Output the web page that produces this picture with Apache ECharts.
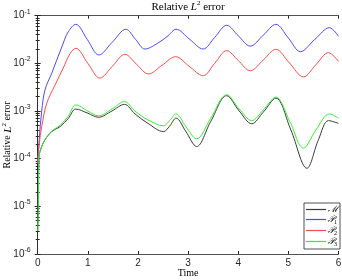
<!DOCTYPE html>
<html><head><meta charset="utf-8">
<script src="https://cdn.jsdelivr.net/npm/echarts@6/dist/echarts.min.js"></script>
<style>html,body{margin:0;padding:0;background:#fff}#c{width:342px;height:280px}</style>
</head><body><div id="c"></div>
<script>
var tM = [0,0.012,0.026,0.08,0.146,0.28,0.445,0.61,0.76,1.0,1.21,1.48,1.73,1.94,2.2,2.51,2.63,2.76,2.95,3.17,3.45,3.77,4.02,4.27,4.5,4.75,5.05,5.37,5.6,5.8,6.0];
var vM = [3e-6,1e-5,1.1e-4,1.8e-4,2.5e-4,3.7e-4,4.7e-4,7e-4,1.1e-3,9e-4,7.4e-4,1.0e-3,1.38e-3,8.7e-4,5.5e-4,3.7e-4,4.8e-4,7.1e-4,3.8e-4,1.8e-4,6e-4,2.1e-3,1.0e-3,5.4e-4,9.5e-4,1.86e-3,4e-4,6.3e-5,2.5e-4,6.3e-4,5.5e-4];
var tP1 = [0,0.03,0.08,0.146,0.28,0.48,0.61,0.76,0.99,1.22,1.49,1.76,1.95,2.14,2.44,2.6,2.76,3.03,3.3,3.53,3.77,4.0,4.24,4.5,4.75,5.0,5.24,5.53,5.82,6.0];
var vP1 = [8e-5,2.5e-4,1e-3,2.8e-3,6.2e-3,0.022,0.046,0.066,0.0316,0.015,0.028,0.052,0.032,0.020,0.0285,0.038,0.052,0.032,0.020,0.035,0.063,0.038,0.023,0.039,0.066,0.034,0.0176,0.032,0.056,0.037];
var tP2 = [0,0.03,0.08,0.18,0.345,0.51,0.645,0.76,1.0,1.24,1.49,1.74,1.97,2.21,2.48,2.75,3.02,3.3,3.53,3.77,4.0,4.24,4.5,4.75,5.02,5.3,5.55,5.8,6.0];
var vP2 = [8e-5,2e-4,4.7e-4,1.45e-3,3.5e-3,8e-3,0.016,0.0207,0.010,0.0049,0.0087,0.0155,0.0096,0.006,0.0091,0.0138,0.0087,0.0055,0.010,0.0185,0.0115,0.007,0.0118,0.0197,0.0102,0.0052,0.0094,0.0168,0.011];
var tP3 = [0,0.012,0.026,0.08,0.146,0.28,0.445,0.61,0.76,1.0,1.21,1.48,1.73,1.94,2.2,2.51,2.63,2.76,2.95,3.17,3.45,3.77,4.02,4.27,4.5,4.75,5.03,5.3,5.55,5.82,6.0];
var vP3 = [3e-6,1e-5,1.1e-4,1.8e-4,2.5e-4,3.8e-4,5e-4,7.8e-4,1.34e-3,1.0e-3,7.9e-4,1.1e-3,1.58e-3,1.0e-3,6.5e-4,4.9e-4,6.3e-4,8.7e-4,4.8e-4,2.6e-4,7e-4,2.2e-3,1.1e-3,6.3e-4,1.05e-3,1.95e-3,6e-4,1.66e-4,4e-4,8.7e-4,7.1e-4];
var seriesNames = ['M','P1','P2','P3'];
var seriesColors = ['#3a3a3a','#4a4aff','#ff4a4a','#33ee33'];

function pairs(t, v){ return t.map(function(x,i){ return [x, v[i]]; }); }

var axisCol = '#262626';
var serif = '"Liberation Serif", "DejaVu Serif", serif';
var sans = '"Liberation Sans", Arial, sans-serif';

function yLabel(v){
  var e = Math.round(Math.log10(v));
  return '{b|10}{s|' + e + '}';
}
var yRich = { b:{fontSize:10,fontFamily:sans,color:axisCol}, s:{fontSize:7,fontFamily:sans,color:axisCol,verticalAlign:'bottom',padding:[0,0,8,0]} };

var chart = echarts.init(document.getElementById('c'), null, {renderer:'canvas'});
var mkLine = function(i, t, v){
  var color = seriesColors[i];
  return {name:seriesNames[i], type:'line', data:pairs(t,v), showSymbol:false, symbol:'none', smooth:0.35,
    lineStyle:{color:color, width:1}, itemStyle:{color:color}, xAxisIndex:0, yAxisIndex:0, z:3, animation:false};
};
var titleRich = {i:{fontStyle:'italic',fontSize:11,fontFamily:serif,color:'#000'}, p:{fontSize:7,fontFamily:serif,color:'#000',verticalAlign:'bottom',padding:[0,0,7,0]}};
chart.setOption({
  animation:false,
  title:{text:'Relative {i|L}{p|2} error', left:188, top:0, padding:0, textAlign:'center',
    textStyle:{fontSize:11, fontWeight:'normal', fontFamily:serif, color:'#000', rich:titleRich}},
  grid:{left:37.7, right:3.5, top:15.7, bottom:26, containLabel:false, outerBoundsMode:'none'},
  legend:{orient:'vertical', right:2, bottom:31, itemWidth:20, itemHeight:1.2, itemGap:1, icon:'rect',
    backgroundColor:'#fff', borderColor:axisCol, borderWidth:0.8, padding:[2,2,2,2], borderRadius:0,
    data:seriesNames.map(function(n,i){ return {name:n, itemStyle:{color:seriesColors[i]}}; }),
    formatter:function(n){ return {M:'{m|ℳ}',P1:'{m|𝒫}{u|1}',P2:'{m|𝒫}{u|2}',P3:'{m|𝒫}{u|3}'}[n]; },
    textStyle:{fontSize:9, fontFamily:serif, color:'#000', padding:[0,0,0,-3],
      rich:{m:{fontSize:9,fontFamily:'"DejaVu Serif", serif',fontStyle:'italic',color:'#000'}, u:{fontSize:6,fontFamily:serif,color:'#000',verticalAlign:'top',padding:[5,0,0,0]}}}},
  xAxis:[
    {type:'value', min:0, max:6, interval:1, position:'bottom',
      name:'Time', nameLocation:'middle', nameGap:14, nameMoveOverlap:false, nameTextStyle:{fontFamily:serif,fontSize:10,color:'#000'},
      axisLine:{show:true,lineStyle:{color:axisCol,width:0.8}}, axisTick:{inside:true,length:3,lineStyle:{color:axisCol}},
      axisLabel:{fontSize:10,fontFamily:sans,color:axisCol,margin:4}, splitLine:{show:false}},
    {type:'value', min:0, max:6, interval:1, position:'top',
      axisLine:{show:true,lineStyle:{color:axisCol,width:0.8}}, axisTick:{inside:true,length:3,lineStyle:{color:axisCol}},
      axisLabel:{show:false}, splitLine:{show:false}}
  ],
  yAxis:[
    {type:'log', logBase:10, min:1e-6, max:1e-1, position:'left',
      name:'Relative {i|L}{p|2} error', nameLocation:'middle', nameGap:23, nameRotate:90, nameMoveOverlap:false,
      nameTextStyle:{fontFamily:serif,fontSize:10,color:'#000',rich:titleRich},
      axisLine:{show:true,lineStyle:{color:axisCol,width:0.8}}, axisTick:{inside:true,length:3,lineStyle:{color:axisCol}},
      minorTick:{show:true, splitNumber:9, length:2, lineStyle:{color:axisCol}},
      axisLabel:{formatter:yLabel, rich:yRich, margin:7}, splitLine:{show:false}},
    {type:'log', logBase:10, min:1e-6, max:1e-1, position:'right',
      axisLine:{show:true,lineStyle:{color:axisCol,width:0.8}}, axisTick:{inside:true,length:3,lineStyle:{color:axisCol}},
      minorTick:{show:true, splitNumber:9, length:2, lineStyle:{color:axisCol}},
      axisLabel:{show:false}, splitLine:{show:false}}
  ],
  series:[
    mkLine(0, tM, vM),
    mkLine(1, tP1, vP1),
    mkLine(2, tP2, vP2),
    mkLine(3, tP3, vP3)
  ]
});
</script></body></html>
